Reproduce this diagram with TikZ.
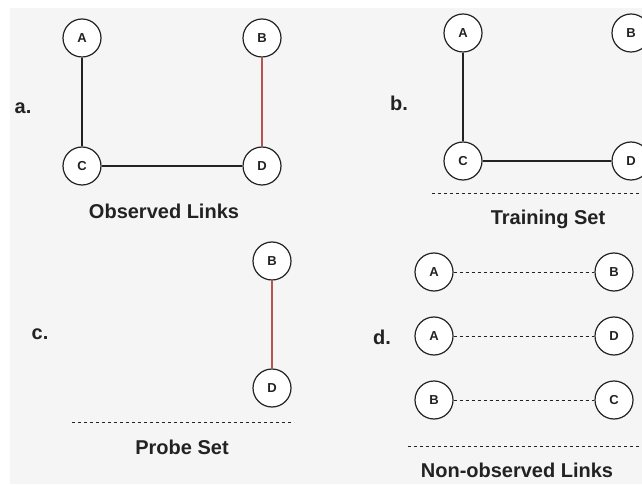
\documentclass[tikz,border=0pt]{standalone}
\usepackage{fontspec}
\setmainfont{Liberation Sans}
\definecolor{bg}{HTML}{F5F5F5}
\definecolor{redl}{HTML}{B85450}
\definecolor{ink}{HTML}{222222}
\begin{document}
\begin{tikzpicture}[x=1pt,y=-1pt,
  vert/.style={circle,draw=ink,line width=1.2pt,fill=white,minimum size=38pt,inner sep=0pt,font=\fontsize{13}{13}\selectfont\bfseries,text=ink},
  title/.style={font=\fontsize{20}{20}\selectfont\bfseries,text=ink},
  tag/.style={font=\fontsize{20}{20}\selectfont\bfseries,text=ink},
  edge/.style={draw=ink,line width=1.2pt},
  redge/.style={draw=redl,line width=1.2pt},
  dline/.style={draw=ink,line width=0.9pt,dash pattern=on 3pt off 3pt},
]
\useasboundingbox (0,0) rectangle (642,486);
\fill[white] (0,0) rectangle (642,486);
\fill[bg] (10,8) rectangle (642,484);
% panel a
\node[vert] (aA) at (82,38) {A};
\node[vert] (aB) at (262,38) {B};
\node[vert] (aC) at (82,166) {C};
\node[vert] (aD) at (262,166) {D};
\draw[edge] (aA) -- (aC);
\draw[edge] (aC) -- (aD);
\draw[redge] (aB) -- (aD);
\node[tag] (la) at (23,108) {a.};
\node[title] (ta) at (164,211) {Observed Links};
% panel b
\node[vert] (bA) at (463,33) {A};
\node[vert] (bB) at (631,33) {B};
\node[vert] (bC) at (463,161) {C};
\node[vert] (bD) at (631,161) {D};
\draw[edge] (bA) -- (bC);
\draw[edge] (bC) -- (bD);
\node[tag] (lb) at (399,103) {b.};
\coordinate (b1) at (432,193);
\coordinate (b2) at (642,193);
\draw[dline] (b1) -- (b2);
\node[title] (tb) at (548,219) {Training Set};
% panel c
\node[vert] (cB) at (272,261) {B};
\node[vert] (cD) at (272,388) {D};
\draw[redge] (cB) -- (cD);
\node[tag] (lc) at (40,334) {c.};
\coordinate (c1) at (72,422);
\coordinate (c2) at (294,422);
\draw[dline] (c1) -- (c2);
\node[title] (tc) at (182,447) {Probe Set};
% panel d
\node[vert] (d1A) at (434,272) {A};
\node[vert] (d1B) at (614,272) {B};
\node[vert] (d2A) at (434,336) {A};
\node[vert] (d2D) at (614,336) {D};
\node[vert] (d3B) at (434,400) {B};
\node[vert] (d3C) at (614,400) {C};
\draw[dline] (d1A) -- (d1B);
\draw[dline] (d2A) -- (d2D);
\draw[dline] (d3B) -- (d3C);
\node[tag] (ld) at (382,337) {d.};
\coordinate (d1) at (408,446);
\coordinate (d2) at (642,446);
\draw[dline] (d1) -- (d2);
\node[title] (td) at (517,470) {Non-observed Links};
\end{tikzpicture}
\end{document}
